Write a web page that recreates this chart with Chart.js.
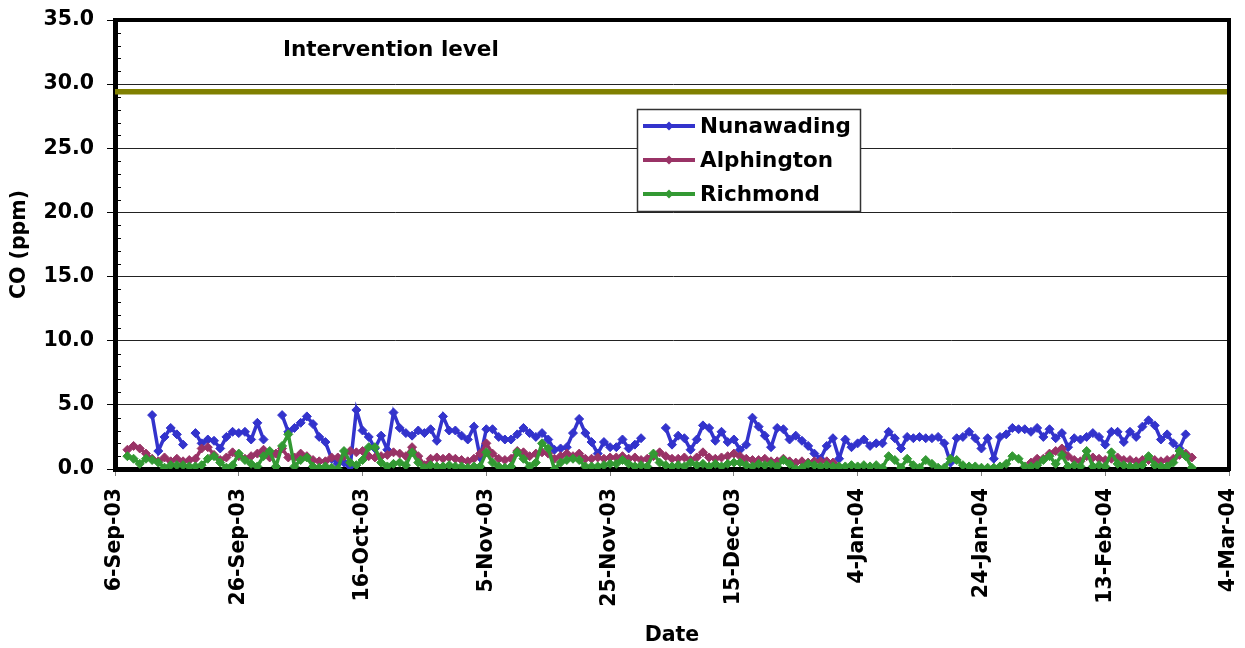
<!DOCTYPE html>
<html lang="en">
<head>
<meta charset="UTF-8">
<title>CO (ppm) - Nunawading, Alphington, Richmond</title>
<script src="https://cdn.jsdelivr.net/npm/chart.js@4.4.1/dist/chart.umd.min.js"></script>
<style>
  html, body { margin: 0; padding: 0; background: #fff; }
  #grafico { display: block; }
</style>
</head>
<body>
<canvas id="grafico" width="1245" height="648"></canvas>
<script>
// --- Data (one value per day, day 0 = 6-Sep-03, null = no reading) ---
const xTickLabels = ['6-Sep-03', '26-Sep-03', '16-Oct-03', '5-Nov-03', '25-Nov-03',
                     '15-Dec-03', '4-Jan-04', '24-Jan-04', '13-Feb-04', '4-Mar-04'];
const yTickLabels = ['0.0', '5.0', '10.0', '15.0', '20.0', '25.0', '30.0', '35.0'];
const seriesNames = ['Nunawading', 'Alphington', 'Richmond'];
const interventionLabel = 'Intervention level';
const interventionLevel = 29.4;

const nunawading = [
  null, null, null, null, null, null, 4.2, 1.4, 2.5, 3.2,   // 0-9
  2.7, 1.9, null, 2.8, 2.0, 2.3, 2.2, 1.6, 2.5, 2.9,        // 10-19
  2.8, 2.9, 2.3, 3.6, 2.3, null, null, 4.2, 2.9, 3.2,       // 20-29
  3.6, 4.1, 3.5, 2.5, 2.1, 0.8, 0.4, 0.5, 0.2, 4.6,         // 30-39
  3.0, 2.5, 1.6, 2.6, 1.5, 4.4, 3.2, 2.8, 2.6, 3.0,         // 40-49
  2.8, 3.1, 2.2, 4.1, 3.0, 3.0, 2.6, 2.3, 3.3, 0.9,         // 50-59
  3.1, 3.1, 2.5, 2.3, 2.3, 2.7, 3.2, 2.8, 2.5, 2.8,         // 60-69
  2.3, 1.5, 1.6, 1.7, 2.8, 3.9, 2.8, 2.1, 1.2, 2.1,         // 70-79
  1.7, 1.7, 2.3, 1.6, 1.9, 2.4, null, null, null, 3.2,      // 80-89
  1.9, 2.6, 2.4, 1.5, 2.3, 3.4, 3.2, 2.2, 2.9, 2.1,         // 90-99
  2.3, 1.5, 1.9, 4.0, 3.3, 2.6, 1.7, 3.2, 3.1, 2.3,         // 100-109
  2.6, 2.2, 1.8, 1.2, 0.8, 1.8, 2.4, 0.8, 2.3, 1.7,         // 110-119
  2.0, 2.3, 1.8, 2.0, 2.0, 2.9, 2.4, 1.6, 2.5, 2.4,         // 120-129
  2.5, 2.4, 2.4, 2.5, 2.0, 0.5, 2.4, 2.5, 2.9, 2.4,         // 130-139
  1.6, 2.4, 0.8, 2.5, 2.7, 3.2, 3.1, 3.1, 2.9, 3.2,         // 140-149
  2.5, 3.1, 2.4, 2.8, 1.7, 2.4, 2.3, 2.5, 2.8, 2.5,         // 150-159
  1.9, 2.9, 2.9, 2.1, 2.9, 2.5, 3.3, 3.8, 3.4, 2.3,         // 160-169
  2.7, 2.0, 1.6, 2.7, null                                  // 170-174
];

const alphington = [
  null, null, 1.5, 1.8, 1.6, 1.2, 0.8, 0.6, 0.9, 0.6,       // 0-9
  0.8, 0.6, 0.7, 0.8, 1.6, 1.7, 1.1, 0.7, 0.9, 1.3,         // 10-19
  1.0, 0.8, 1.0, 1.2, 1.5, 0.9, 1.2, 1.6, 0.9, 0.9,         // 20-29
  1.2, 1.0, 0.7, 0.6, 0.6, 0.9, 0.9, 1.0, 1.4, 1.3,         // 30-39
  1.4, 1.0, 0.9, 1.0, 1.1, 1.3, 1.2, 1.0, 1.7, 1.0,         // 40-49
  0.3, 0.8, 0.9, 0.8, 0.9, 0.8, 0.7, 0.6, 0.8, 1.2,         // 50-59
  2.0, 1.2, 0.8, 0.7, 0.8, 1.4, 1.3, 1.0, 1.2, 1.3,         // 60-69
  1.2, 0.8, 1.0, 1.2, 1.0, 1.2, 0.8, 0.8, 0.9, 0.8,         // 70-79
  0.9, 0.9, 1.0, 0.8, 0.9, 0.7, 0.8, 1.0, 1.3, 1.0,         // 80-89
  0.8, 0.8, 0.9, 0.7, 0.9, 1.3, 0.9, 0.8, 0.9, 1.0,         // 90-99
  1.2, 1.0, 0.8, 0.7, 0.7, 0.8, 0.6, 0.6, 0.8, 0.6,         // 100-109
  0.5, 0.6, 0.5, 0.6, 0.6, 0.6, 0.5, null, null, null,      // 110-119
  null, null, null, null, null, null, null, null, null, null, // 120-129
  null, null, null, null, null, null, null, null, null, null, // 130-139
  null, null, null, null, null, null, null, null, 0.5, 0.8, // 140-149
  0.8, 1.2, 1.4, 1.6, 1.0, 0.7, 0.6, 1.0, 0.9, 0.8,         // 150-159
  0.7, 0.8, 0.9, 0.7, 0.7, 0.6, 0.7, 0.7, 0.7, 0.6,         // 160-169
  0.7, 0.8, 1.1, 1.2, 0.9                                   // 170-174
];

const richmond = [
  null, null, 1.0, 0.8, 0.4, 0.8, 0.7, 0.5, 0.1, 0.3,       // 0-9
  0.3, 0.3, 0.2, 0.2, 0.3, 0.8, 1.0, 0.5, 0.1, 0.3,         // 10-19
  1.2, 0.7, 0.4, 0.2, 1.0, 1.4, 0.2, 1.8, 2.7, 0.2,         // 20-29
  0.7, 0.9, 0.2, 0.1, 0.2, 0.1, 0.0, 1.4, 0.5, 0.3,         // 30-39
  0.7, 1.7, 1.7, 0.5, 0.2, 0.4, 0.5, 0.3, 1.3, 0.5,         // 40-49
  0.1, 0.3, 0.2, 0.2, 0.3, 0.2, 0.2, 0.1, 0.2, 0.2,         // 50-59
  1.3, 0.5, 0.2, 0.1, 0.2, 1.3, 0.8, 0.2, 0.5, 2.0,         // 60-69
  1.6, 0.0, 0.5, 0.7, 0.8, 0.7, 0.2, 0.2, 0.2, 0.3,         // 70-79
  0.4, 0.4, 0.7, 0.4, 0.2, 0.3, 0.2, 1.2, 0.5, 0.3,         // 80-89
  0.2, 0.3, 0.2, 0.5, 0.3, 0.4, 0.2, 0.4, 0.2, 0.4,         // 90-99
  0.5, 0.5, 0.3, 0.2, 0.4, 0.3, 0.4, 0.2, 0.7, 0.4,         // 100-109
  0.0, 0.1, 0.4, 0.3, 0.2, 0.3, 0.2, 0.2, 0.2, 0.3,         // 110-119
  0.2, 0.3, 0.2, 0.3, 0.1, 1.0, 0.7, 0.1, 0.8, 0.3,         // 120-129
  0.1, 0.7, 0.4, 0.1, 0.1, 0.8, 0.7, 0.3, 0.2, 0.2,         // 130-139
  0.1, 0.1, 0.1, 0.2, 0.4, 1.0, 0.8, 0.2, 0.2, 0.3,         // 140-149
  0.7, 1.0, 0.4, 1.1, 0.2, 0.3, 0.2, 1.4, 0.2, 0.3,         // 150-159
  0.2, 1.3, 0.4, 0.3, 0.2, 0.2, 0.3, 1.0, 0.3, 0.2,         // 160-169
  0.2, 0.5, 1.4, 1.0, 0.1                                   // 170-174
];

const seriesColors = ['#3333cc', '#993366', '#339933'];
const interventionColor = '#808000';
const FONTE = '"DejaVu Sans", Verdana, sans-serif';

// --- Helpers ---
const toPoints = valores => valores.map((v, dia) => ({ x: dia, y: v }));

function desenharLosango(ctx, x, y, r, cor) {
    ctx.beginPath();
    ctx.moveTo(x - r, y);
    ctx.lineTo(x, y - r);
    ctx.lineTo(x + r, y);
    ctx.lineTo(x, y + r);
    ctx.closePath();
    ctx.fillStyle = cor;
    ctx.fill();
}

// no extra room for overhanging first/last labels
const semPadding = s => {
    s.paddingLeft = 0;
    s.paddingRight = 0;
    s.paddingTop = 0;
    s.paddingBottom = 0;
};

// --- Extras: minor ticks, top/right frame, label and legend box ---
const extrasPlugin = {
    id: 'extras',
    afterDraw(chart) {
        const { ctx, chartArea: area, scales: { y } } = chart;
        ctx.save();

        // minor ticks inside the plot, every 1 ppm
        ctx.strokeStyle = '#000';
        ctx.lineWidth = 1;
        for (let v = 1; v < 35; v++) {
            if (v % 5 === 0) continue;
            const py = Math.round(y.getPixelForValue(v)) + 0.5;
            ctx.beginPath();
            ctx.moveTo(area.left, py);
            ctx.lineTo(area.left + 6, py);
            ctx.stroke();
        }

        // top and right edge of the plot
        ctx.lineWidth = 4;
        ctx.beginPath();
        ctx.moveTo(area.left - 2, area.top);
        ctx.lineTo(area.right, area.top);
        ctx.lineTo(area.right, area.bottom + 2);
        ctx.stroke();

        // intervention label
        ctx.font = `bold 21.5px ${FONTE}`;
        ctx.fillStyle = '#000';
        ctx.textAlign = 'left';
        ctx.textBaseline = 'middle';
        ctx.fillText(interventionLabel, area.left + 168, 50);

        // legend box
        const caixa = { x: 637.5, y: 109.5, w: 223, h: 102 };
        ctx.fillStyle = '#fff';
        ctx.fillRect(caixa.x, caixa.y, caixa.w, caixa.h);
        ctx.strokeStyle = '#333';
        ctx.lineWidth = 1.5;
        ctx.strokeRect(caixa.x, caixa.y, caixa.w, caixa.h);

        seriesNames.forEach((nome, i) => {
            const ly = 126 + i * 34;
            ctx.strokeStyle = seriesColors[i];
            ctx.lineWidth = 4;
            ctx.beginPath();
            ctx.moveTo(643, ly);
            ctx.lineTo(695, ly);
            ctx.stroke();
            desenharLosango(ctx, 669, ly, 4.5, seriesColors[i]);
            ctx.fillStyle = '#000';
            ctx.font = `bold 21.5px ${FONTE}`;
            ctx.fillText(nome, 700, ly + 1);
        });

        ctx.restore();
    }
};

// --- Chart ---
const serieBase = (nome, valores, cor, ordem) => ({
    label: nome,
    data: toPoints(valores),
    borderColor: cor,
    backgroundColor: cor,
    borderWidth: 3.5,
    pointStyle: 'rectRot',
    pointRadius: 4.5,
    pointBorderWidth: 1,
    pointBackgroundColor: cor,
    pointBorderColor: cor,
    spanGaps: false,
    tension: 0,
    order: ordem
});

Chart.defaults.font.family = FONTE;
Chart.defaults.font.weight = 'bold';
Chart.defaults.font.size = 20.5;
Chart.defaults.color = '#000';

const ctxGrafico = document.getElementById('grafico').getContext('2d');
new Chart(ctxGrafico, {
    type: 'line',
    data: {
        datasets: [
            {
                label: interventionLabel,
                data: [{ x: 0, y: interventionLevel }, { x: 180, y: interventionLevel }],
                borderColor: interventionColor,
                borderWidth: 5.5,
                pointRadius: 0,
                order: 4
            },
            serieBase(seriesNames[0], nunawading, seriesColors[0], 3),
            serieBase(seriesNames[1], alphington, seriesColors[1], 2),
            serieBase(seriesNames[2], richmond, seriesColors[2], 1)
        ]
    },
    options: {
        responsive: false,
        animation: false,
        devicePixelRatio: 1,
        layout: { padding: { top: 20, right: 16, left: 0, bottom: 0 } },
        plugins: {
            legend: { display: false },
            tooltip: { enabled: false }
        },
        scales: {
            x: {
                type: 'linear',
                min: 0,
                max: 180,
                afterFit: s => { s.height = 179; semPadding(s); },
                afterBuildTicks: s => { s.ticks = xTickLabels.map((_, i) => ({ value: i * 20 })); },
                ticks: {
                    autoSkip: false,
                    minRotation: 90,
                    maxRotation: 90,
                    padding: 12,
                    callback: (v, i) => xTickLabels[i]
                },
                grid: { drawOnChartArea: false, drawTicks: true, tickLength: 7, tickColor: '#808080' },
                border: { display: true, color: '#000', width: 5 },
                title: { display: true, text: 'Date', padding: { top: 0, bottom: 0 } }
            },
            y: {
                min: 0,
                max: 35,
                afterFit: s => { s.width = 115; semPadding(s); },
                afterBuildTicks: s => { s.ticks = yTickLabels.map((_, i) => ({ value: i * 5 })); },
                ticks: {
                    padding: 13,
                    callback: (v, i) => yTickLabels[i]
                },
                grid: { color: '#222', lineWidth: 1, drawTicks: true, tickLength: 8, tickColor: '#000', tickWidth: 1 },
                border: { display: true, color: '#000', width: 5 },
                title: { display: true, text: 'CO (ppm)', padding: { top: 7, bottom: 0 } }
            }
        }
    },
    plugins: [extrasPlugin]
});
</script>
</body>
</html>
